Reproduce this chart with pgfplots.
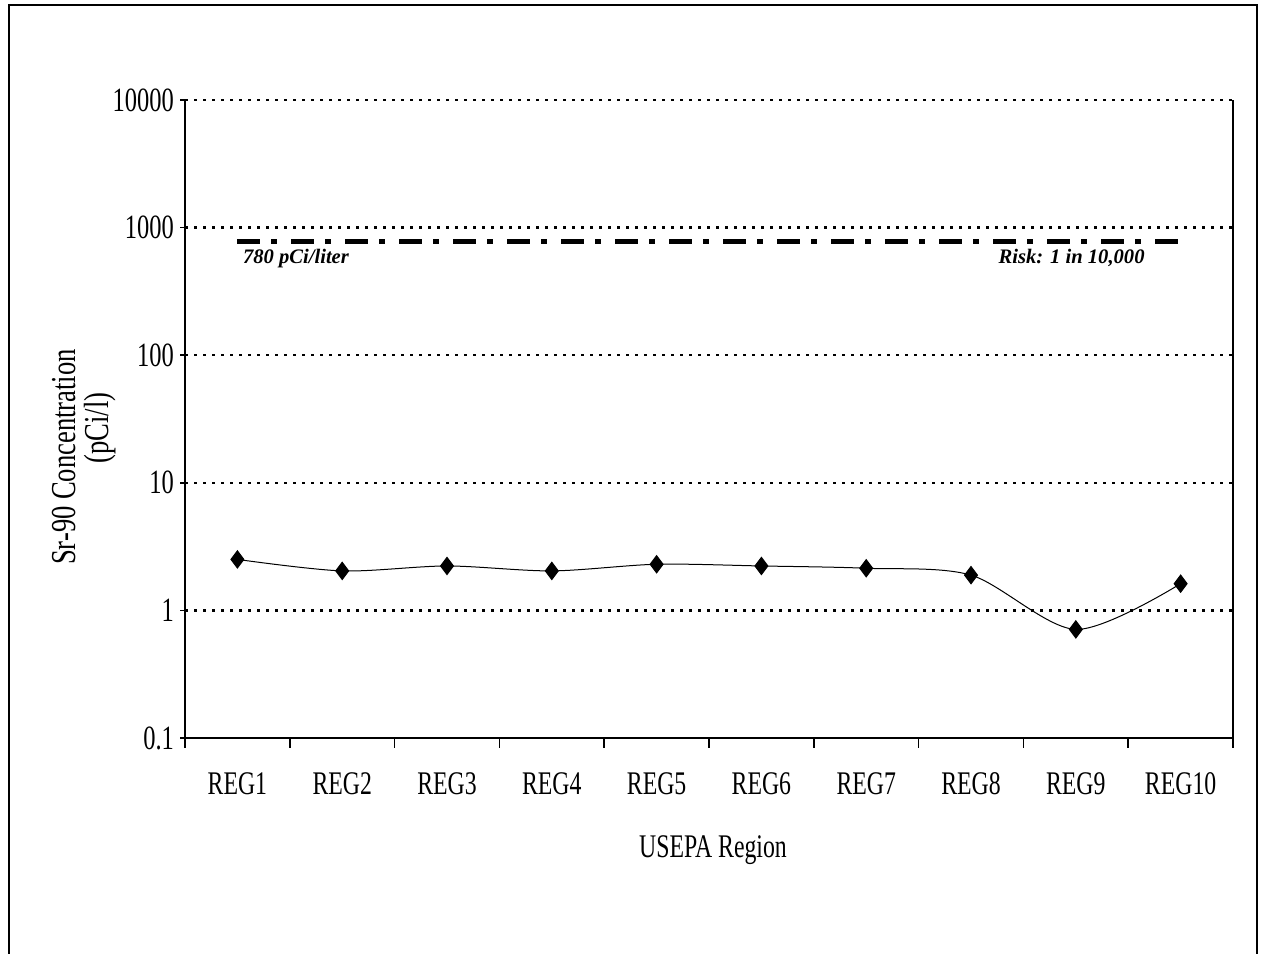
\documentclass[border=0pt]{standalone}
\usepackage{fontspec}
\setmainfont{Liberation Serif}[FakeStretch=0.72]
\newfontfamily\lblfont{Liberation Serif}
\newfontfamily\labfont{Liberation Serif}[FakeStretch=0.76]
\usepackage{pgfplots}
\pgfplotsset{compat=1.18}
\begin{document}
\begin{tikzpicture}
\begin{scope}[x=0.5pt,y=-0.5pt]
\path[use as bounding box] (0,0) rectangle (1261,953);
\draw[line width=1pt] (9,954) -- (9,5) -- (1257,5) -- (1257,954);
\end{scope}
\begin{axis}[
  at={(92.5pt,-369pt)}, anchor=south west,
  scale only axis, width=524pt, height=319pt,
  ymode=log, ymin=0.1, ymax=10000, xmin=-0.5, xmax=9.5,
  axis x line*=bottom, axis y line*=box,
  axis line style={line width=0.75pt},
  xtick={-0.5,0.5,...,9.5}, x tick label as interval,
  xticklabels={REG1,REG2,REG3,REG4,REG5,REG6,REG7,REG8,REG9,REG10},
  ytick={0.1,1,10,100,1000,10000},
  yticklabels={0.1,1,10,100,1000,10000},
  ytick pos=left, xtick pos=bottom, tick align=outside,
  yminorticks=false, xminorticks=false,
  major tick length=5pt,
  ytick style={/pgfplots/major tick length=2.5pt},
  tick style={black, line width=0.75pt},
  ymajorgrids,
  grid style={black, line width=1.2pt, dash pattern=on 1.5pt off 3pt},
  /pgf/number format/assume math mode=true,
  xticklabel style={font=\fontsize{16.5}{19}\selectfont, text height=11pt, text depth=0pt, yshift=-8.5pt},
  yticklabel style={font=\fontsize{17}{19}\selectfont, xshift=3pt},
  clip=false,
]
\addplot[black, line width=2.25pt, dash pattern=on 11.5pt off 5.5pt on 3pt off 7pt, forget plot] coordinates {(0,780) (9,780)};
\addplot[black, line width=0.5pt, smooth, mark=diamond*, mark size=4.3pt, mark options={solid, fill=black}] coordinates {(0,2.51) (1,2.04) (2,2.23) (3,2.04) (4,2.30) (5,2.23) (6,2.14) (7,1.89) (8,0.71) (9,1.62)};
\node[anchor=west, inner sep=0pt, font=\lblfont\bfseries\itshape\fontsize{10.3}{12}\selectfont] at (axis cs:0.05,574) {780 pCi/liter};
\node[anchor=east, inner sep=0pt, font=\lblfont\bfseries\itshape\fontsize{10.3}{12}\selectfont] at (axis cs:8.66,574) {Risk: 1 in 10,000};
\end{axis}
\node[rotate=90, anchor=base, inner sep=0pt, font=\labfont\fontsize{17.5}{20}\selectfont] at (37.5pt,-228.5pt) {Sr-90 Concentration};
\node[rotate=90, anchor=base, inner sep=0pt, font=\labfont\fontsize{17.5}{20}\selectfont] at (54pt,-214pt) {(pCi/l)};
\node[anchor=base, inner sep=0pt, font=\fontsize{16.5}{19}\selectfont] at (356.5pt,-428.5pt) {USEPA Region};
\end{tikzpicture}
\end{document}
